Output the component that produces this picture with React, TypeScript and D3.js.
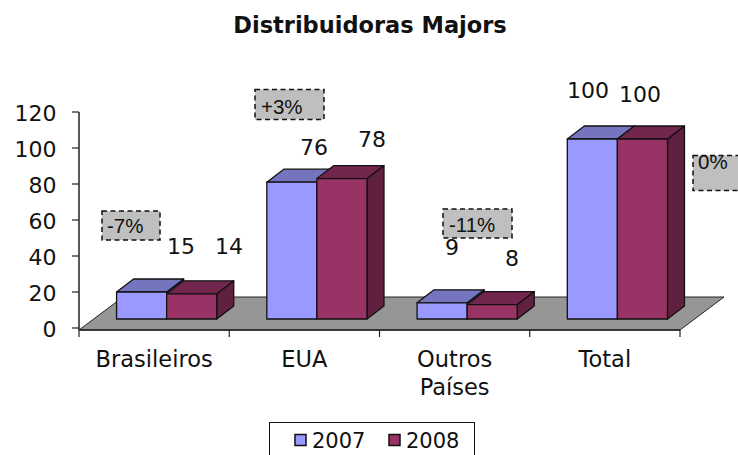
import React from "react";
import * as d3 from "d3";

const categories = ["Brasileiros", "EUA", "Outros Países", "Total"];
const categoryLines = [["Brasileiros"], ["EUA"], ["Outros", "Países"], ["Total"]];
const series2007 = [15, 76, 9, 100];
const series2008 = [14, 78, 8, 100];
const yTicks = [0, 20, 40, 60, 80, 100, 120];
const seriesNames = ["2007", "2008"];
const notes = ["-7%", "+3%", "-11%", "0%"];

const W = 738, H = 455;
const FONT = "'DejaVu Sans', Verdana, sans-serif";
const colors = [
  { front: "#9999FF", top: "#7575BF", side: "#6E6EBF" },
  { front: "#993366", top: "#73264D", side: "#602040" },
];
const x = d3.scaleBand<string>().domain(categories).range([79, 680]);
const y = d3.scaleLinear().domain([0, 120]).range([328, 112]);
const bw = x.bandwidth() / 3;
const groupOffset = x.bandwidth() / 4;
const baseShift = -9;
const depth = { dx: 17, dy: 13 };
const floorDepth = { dx: 44, dy: 33 };
const floorY = 330;

const labelPos2007 = [[181, 254], [314, 155], [452, 255], [588, 98]];
const labelPos2008 = [[229, 254], [372, 147], [512, 266], [640, 102]];
const noteBoxes = [
  { x: 102, y: 211, w: 58, h: 29, tx: 107, ty: 233 },
  { x: 255, y: 89.5, w: 69, h: 30, tx: 261, ty: 114 },
  { x: 443, y: 209, w: 69, h: 29, tx: 449, ty: 232 },
  { x: 693, y: 155.5, w: 60, h: 35, tx: 698, ty: 169 },
];

function Bar({ left, v, c }: { left: number; v: number; c: typeof colors[0] }) {
  const t = y(v) + baseShift;
  const b = y(0) + baseShift;
  const r = left + bw;
  const { dx, dy } = depth;
  const common = { stroke: "#111", strokeWidth: 1.3, strokeLinejoin: "round" as const };
  return (
    <g>
      <polygon points={`${r},${t} ${r + dx},${t - dy} ${r + dx},${b - dy} ${r},${b}`} fill={c.side} {...common} />
      <polygon points={`${left},${t} ${left + dx},${t - dy} ${r + dx},${t - dy} ${r},${t}`} fill={c.top} {...common} />
      <rect x={left} y={t} width={bw} height={b - t} fill={c.front} {...common} />
    </g>
  );
}

export default function App() {
  const [x0, x1] = x.range();
  return (
    <svg width={W} height={H} viewBox={`0 0 ${W} ${H}`} style={{ position: "absolute", left: 0, top: 0, background: "#fff" }} fontFamily={FONT} fill="#111">
      <defs>
        <clipPath id="zeroClip"><rect x={noteBoxes[3].x} y={noteBoxes[3].y} width={60} height={35} /></clipPath>
      </defs>
      <text x={370} y={33} textAnchor="middle" fontWeight="bold" fontSize={22.5}>Distribuidoras Majors</text>

      <polygon
        points={`${x0},${floorY} ${x1},${floorY} ${x1 + floorDepth.dx},${floorY - floorDepth.dy} ${x0 + floorDepth.dx},${floorY - floorDepth.dy}`}
        fill="#969696" stroke="#222" strokeWidth={1}
      />

      {categories.map((cat, i) => {
        const left = (x(cat) as number) + groupOffset;
        return (
          <g key={cat}>
            <Bar left={left} v={series2007[i]} c={colors[0]} />
            <Bar left={left + bw} v={series2008[i]} c={colors[1]} />
          </g>
        );
      })}

      <line x1={x0} x2={x0} y1={y(120)} y2={floorY} stroke="#222" strokeWidth={1.5} />
      <line x1={x0} x2={x1} y1={floorY} y2={floorY} stroke="#222" strokeWidth={1.5} />
      {yTicks.map((t) => (
        <g key={t}>
          <line x1={x0 - 7} x2={x0} y1={y(t)} y2={y(t)} stroke="#222" strokeWidth={1.2} />
          <text x={56.5} y={y(t) + 9} textAnchor="end" fontSize={22}>{t}</text>
        </g>
      ))}
      {[...categories.map((c) => x(c) as number), x1].map((px) => (
        <line key={px} x1={px} x2={px} y1={floorY} y2={floorY + 7} stroke="#222" strokeWidth={1.2} />
      ))}
      {categories.map((cat, i) => (
        <text key={cat} textAnchor="middle" fontSize={22.5}>
          {categoryLines[i].map((l, k) => (
            <tspan key={l} x={(x(cat) as number) + x.bandwidth() / 2} y={367 + k * 28}>{l}</tspan>
          ))}
        </text>
      ))}

      {series2007.map((v, i) => (
        <text key={i} x={labelPos2007[i][0]} y={labelPos2007[i][1]} textAnchor="middle" fontSize={22}>{v}</text>
      ))}
      {series2008.map((v, i) => (
        <text key={i} x={labelPos2008[i][0]} y={labelPos2008[i][1]} textAnchor="middle" fontSize={22}>{v}</text>
      ))}

      {notes.map((n, i) => {
        const b = noteBoxes[i];
        return (
          <g key={n}>
            <rect x={b.x} y={b.y} width={b.w} height={b.h} fill="#BFBFBF" stroke="#111" strokeWidth={1.5} strokeDasharray="5 3.5" />
            <text x={b.tx} y={b.ty} fontFamily="'Liberation Sans', Arial, sans-serif" fontSize={20.5} clipPath={i === 3 ? "url(#zeroClip)" : undefined}>{n}</text>
          </g>
        );
      })}

      <rect x={269.5} y={422.5} width={205} height={40} fill="#fff" stroke="#111" strokeWidth={1} />
      {seriesNames.map((s, i) => (
        <g key={s}>
          <rect x={295 + i * 94} y={434.5} width={11} height={11} fill={colors[i].front} stroke="#111" strokeWidth={1.5} />
          <text x={312 + i * 94} y={448} fontSize={21}>{s}</text>
        </g>
      ))}
    </svg>
  );
}
